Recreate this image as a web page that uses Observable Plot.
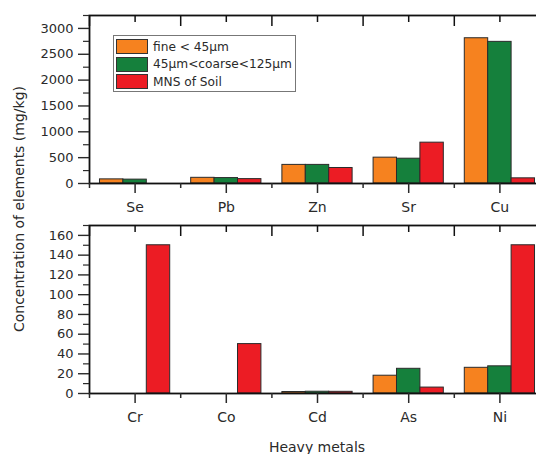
<!DOCTYPE html>
<html><head><meta charset="utf-8">
<script src="https://cdn.jsdelivr.net/npm/d3@7"></script>
<script src="https://cdn.jsdelivr.net/npm/@observablehq/plot@0.6"></script>
<style>
body{margin:0;background:#fff;}
#chart{position:relative;width:536px;height:454px;overflow:hidden;font-family:"DejaVu Sans",sans-serif;color:#2a2a2a;background:#fff;}
.panel{position:absolute;left:0;}
#ylabel{position:absolute;left:19px;top:209px;transform:translate(-50%,-50%) rotate(-90deg);white-space:nowrap;font-size:14px;}
#xlabel{position:absolute;left:317px;top:447px;transform:translate(-50%,-50%);white-space:nowrap;font-size:14px;}
#legend{position:absolute;left:113px;top:35px;width:181px;height:55px;border:1px solid #777;background:#fff;}
.row{position:absolute;left:2px;height:15px;display:flex;align-items:center;font-size:12.2px;white-space:nowrap;}
.sw{width:32px;height:15px;border:1px solid #333;box-sizing:border-box;margin-right:5px;}
</style></head><body><div id="chart"></div>
<script>
const series = ["fine < 45\u00b5m", "45\u00b5m<coarse<125\u00b5m", "MNS of Soil"];
const colors = ["#f6821f", "#15803c", "#ec1c24"];

const topMetals = ["Se", "Pb", "Zn", "Sr", "Cu"];
const topFine = [80, 110, 360, 500, 2810];
const topCoarse = [75, 105, 360, 480, 2740];
const topMNS = [0, 85, 300, 790, 100];
const topYTicks = [0, 500, 1000, 1500, 2000, 2500, 3000];

const bottomMetals = ["Cr", "Co", "Cd", "As", "Ni"];
const bottomFine = [0, 0, 1.5, 18, 26];
const bottomCoarse = [0, 0, 1.8, 25, 27.5];
const bottomMNS = [150, 50, 1.7, 6, 150];
const bottomYTicks = [0, 20, 40, 60, 80, 100, 120, 140, 160];

const groupW = 0.77, barW = groupW / 3;

function panel(metals, values, yDomain, yTicks, height, marginTop, marginBottom) {
  const rows = metals.flatMap((m, i) => values.map((v, k) => ({metal: m, i, k, series: series[k], value: v[i]})));
  const step = yTicks[1] - yTicks[0];
  const minor = d3.range(step / 2, yDomain[1] + 1e-9, step);
  const centers = metals.map((m, i) => i + 0.5);
  const bounds = d3.range(0, metals.length + 1);
  const blank = () => "";
  const innerH = height - marginTop - marginBottom;
  return Plot.plot({
    width: 536, height, marginLeft: 89, marginRight: -9, marginTop, marginBottom,
    style: {fontFamily: '"DejaVu Sans", sans-serif', fontSize: "13px", color: "#2a2a2a"},
    x: {domain: [0, metals.length], label: null},
    y: {domain: yDomain, label: null},
    color: {domain: series, range: colors},
    marks: [
      Plot.rect(rows, {
        x1: d => d.i + 0.5 - groupW / 2 + d.k * barW,
        x2: d => d.i + 0.5 - groupW / 2 + (d.k + 1) * barW,
        y1: 0, y2: "value", fill: "series", stroke: "#2b2b2b", strokeWidth: 1
      }),
      Plot.frame({stroke: "#111", strokeWidth: 1.8}),
      Plot.tickX(centers, {x: d => d, insetBottom: innerH - 7, stroke: "#111", strokeWidth: 1.5}),
      Plot.tickX(bounds, {x: d => d, insetBottom: innerH - 11, stroke: "#111", strokeWidth: 1.5}),
      Plot.axisY(yTicks, {tickSize: 11, tickPadding: 5, tickFormat: d => String(d), label: null, strokeWidth: 1.4}),
      Plot.axisY(minor, {tickSize: 6, tickFormat: blank, label: null, strokeWidth: 1.2}),
      Plot.axisX(centers, {tickSize: 10, tickPadding: 9, tickFormat: v => metals[v - 0.5], label: null, fontSize: 14, strokeWidth: 1.5}),
      Plot.axisX(bounds, {tickSize: 5, tickFormat: blank, label: null, strokeWidth: 1.5})
    ]
  });
}

const chart = document.getElementById("chart");
const p1 = panel(topMetals, [topFine, topCoarse, topMNS], [0, 3250], topYTicks, 220, 15, 37);
p1.classList.add("panel"); p1.style.top = "0px";
const p2 = panel(bottomMetals, [bottomFine, bottomCoarse, bottomMNS], [0, 170], bottomYTicks, 234, 5, 61);
p2.classList.add("panel"); p2.style.top = "220px";
chart.appendChild(p1);
chart.appendChild(p2);

const yl = document.createElement("div"); yl.id = "ylabel"; yl.textContent = "Concentration of elements (mg/kg)"; chart.appendChild(yl);
const xl = document.createElement("div"); xl.id = "xlabel"; xl.textContent = "Heavy metals"; chart.appendChild(xl);

const lg = document.createElement("div"); lg.id = "legend";
series.forEach((s, k) => {
  const r = document.createElement("div"); r.className = "row"; r.style.top = (3 + k * 17.5) + "px";
  const sw = document.createElement("div"); sw.className = "sw"; sw.style.background = colors[k];
  const t = document.createElement("span"); t.textContent = s;
  r.appendChild(sw); r.appendChild(t); lg.appendChild(r);
});
chart.appendChild(lg);
</script></body></html>
